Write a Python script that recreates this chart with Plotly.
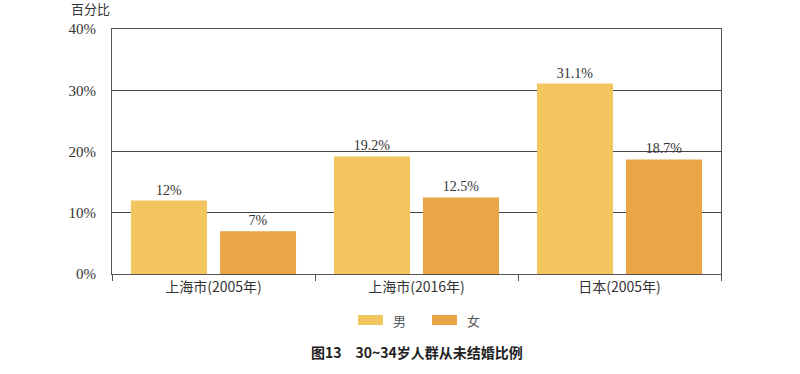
import plotly.graph_objects as go

categories = ["上海市(2005年)", "上海市(2016年)", "日本(2005年)"]
male = [12, 19.2, 31.1]
female = [7, 12.5, 18.7]
male_labels = ["12%", "19.2%", "31.1%"]
female_labels = ["7%", "12.5%", "18.7%"]
y_ticks = [0, 10, 20, 30, 40]
y_tick_text = ["0%", "10%", "20%", "30%", "40%"]
series_names = ["男", "女"]
colors = ["#F2C55F", "#E8A646"]

serif = "Liberation Serif, DejaVu Serif, serif"
cjk = "Noto Sans CJK SC"

L, R, T, B = 112, 79, 29, 100
W, H = 800, 374
pw, ph = W - L - R, H - T - B


def px(x):
    return (x - L) / pw


def py(y):
    return (H - B - y) / ph


fig = go.Figure()
for name, vals, labels, col in [(series_names[0], male, male_labels, colors[0]),
                                (series_names[1], female, female_labels, colors[1])]:
    fig.add_trace(go.Bar(name=name, x=categories, y=vals, text=labels,
                         textposition="outside", marker_color=col,
                         marker_line_width=0, cliponaxis=False,
                         textfont=dict(family=serif, size=14, color="#333")))

fig.update_layout(
    width=W, height=H,
    margin=dict(l=L, r=R, t=T, b=B),
    paper_bgcolor="white", plot_bgcolor="white",
    barmode="group", bargap=0.123, bargroupgap=0.146,
    font=dict(family=serif, size=14, color="#333"),
    showlegend=False,
)
fig.update_xaxes(showline=True, linecolor="#555", linewidth=1, mirror=True,
                 ticks="outside", tickson="boundaries", ticklen=6, tickcolor="#555",
                 tickfont=dict(family=cjk, size=14, color="#333"), showgrid=False)
fig.update_yaxes(range=[0, 40], tickmode="array", tickvals=y_ticks, ticktext=y_tick_text,
                 showline=True, linecolor="#555", linewidth=1, mirror=True,
                 showgrid=True, gridcolor="#444", gridwidth=1, zeroline=False,
                 ticks="", ticklabelstandoff=12,
                 tickfont=dict(family=serif, size=15, color="#333"))

# custom legend
for i, (name, col) in enumerate(zip(series_names, colors)):
    x0 = 358 + i * 74
    fig.add_shape(type="rect", xref="paper", yref="paper",
                  x0=px(x0), x1=px(x0 + 25), y0=py(325), y1=py(315),
                  fillcolor=col, line_width=0)
    fig.add_annotation(text=name, xref="paper", yref="paper", x=px(x0 + 33), y=py(320),
                       xanchor="left", yanchor="middle", showarrow=False,
                       font=dict(family=cjk, size=13, color="#555"))

fig.add_annotation(text="百分比", xref="paper", yref="paper", x=px(112), y=py(9),
                   xanchor="right", yanchor="middle", showarrow=False,
                   font=dict(family=cjk, size=13, color="#333"))
fig.add_annotation(text="<b>图13　30~34岁人群从未结婚比例</b>", xref="paper", yref="paper",
                   x=0.5, y=py(352), xanchor="center", yanchor="middle", showarrow=False,
                   font=dict(family=cjk, size=14, color="#222"))

fig.write_html("out.html")
